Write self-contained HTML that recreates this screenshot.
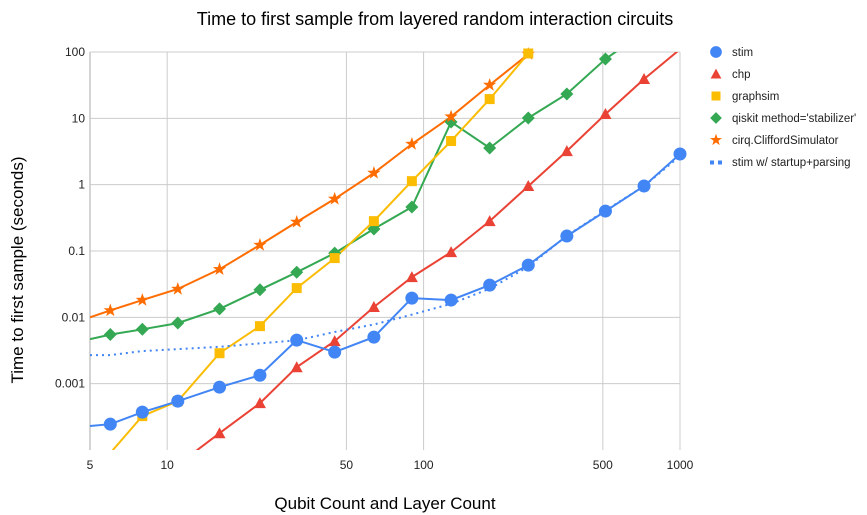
<!DOCTYPE html>
<html><head><meta charset="utf-8"><style>
body{margin:0;background:#fff;font-family:"Liberation Sans",Arial,sans-serif}
svg{display:block}
</style></head><body>
<svg id="c" width="867" height="515" xmlns="http://www.w3.org/2000/svg">
<defs><clipPath id="clip"><rect x="90" y="52" width="590" height="398"/></clipPath></defs>
<text x="435" y="25" text-anchor="middle" font-size="18" fill="#000">Time to first sample from layered random interaction circuits</text>
<text x="385" y="509" text-anchor="middle" font-size="17" fill="#000">Qubit Count and Layer Count</text>
<text transform="translate(23,270) rotate(-90)" text-anchor="middle" font-size="17" fill="#000">Time to first sample (seconds)</text>
<g id="grid"></g><g id="series" clip-path="url(#clip)"></g><g id="marks"></g><g id="legend"></g>
</svg>
<script>
const xTicks=[5,10,50,100,500,1000];
const xTickLabels=["5","10","50","100","500","1000"];
const yTicks=[0.001,0.01,0.1,1,10,100];
const yTickLabels=["0.001","0.01","0.1","1","10","100"];
const seriesNames=["stim","chp","graphsim","qiskit method='stabilizer'","cirq.CliffordSimulator","stim w/ startup+parsing"];
const stimX=[5,6,8,11,16,23,32,45,64,90,128,181,256,362,512,724,1000];
const stimY=[0.00023,0.000245,0.000372,0.000545,0.000885,0.00134,0.00453,0.00299,0.00503,0.0195,0.0182,0.0306,0.0613,0.168,0.4,0.953,2.9];
const chpX=[11,16,23,32,45,64,90,128,181,256,362,512,724,1000];
const chpY=[0.00006,0.000179,0.000508,0.00177,0.00438,0.0143,0.0404,0.0962,0.282,0.953,3.21,11.6,39.1,110];
const graphsimX=[6,8,11,16,23,32,45,64,90,128,181,256];
const graphsimY=[0.00009,0.000324,0.000545,0.00288,0.00736,0.0276,0.0782,0.282,1.13,4.55,19.5,95];
const qiskitX=[5,6,8,11,16,23,32,45,64,90,128,181,256,362,512,724];
const qiskitY=[0.0047,0.0055,0.0066,0.0082,0.0134,0.026,0.0478,0.0929,0.215,0.46,8.8,3.57,10.1,23.3,78.4,200];
const cirqX=[5,6,8,11,16,23,32,45,64,90,128,181,256];
const cirqY=[0.01,0.0127,0.0182,0.0267,0.053,0.123,0.274,0.61,1.5,4.1,10.6,31.8,93];
const parseX=[5,6,8,16,32,45,64,90,128,181,256,362,512,724,1000];
const parseY=[0.0027,0.0027,0.0031,0.0036,0.0045,0.006,0.0078,0.011,0.016,0.027,0.058,0.17,0.41,0.95,2.7];

const NS="http://www.w3.org/2000/svg";
const X0=90,X1=680,Y0=450,Y1=52;
const sx=v=>X0+(Math.log10(v)-Math.log10(5))/(Math.log10(1000)-Math.log10(5))*(X1-X0);
const sy=v=>Y0-(Math.log10(v)+4)/6*(Y0-Y1);
function mk(tag,attrs,parent){const e=document.createElementNS(NS,tag);for(const k in attrs)e.setAttribute(k,attrs[k]);parent.appendChild(e);return e;}
const grid=document.getElementById('grid'),ser=document.getElementById('series'),marks=document.getElementById('marks'),leg=document.getElementById('legend');
xTicks.forEach((t,i)=>{
  const l=mk('line',{x1:sx(t),x2:sx(t),y1:Y1,y2:Y0,stroke:i==0?'#aaa':'#ccc','stroke-width':1},grid);
  
  
  const tx=mk('text',{x:sx(t),y:469,'text-anchor':'middle','font-size':12,fill:'#222'},grid);tx.textContent=xTickLabels[i];
  
  
});
yTicks.forEach((t,i)=>{
  const l=mk('line',{x1:X0,x2:X1,y1:sy(t),y2:sy(t),stroke:'#ccc','stroke-width':1},grid);
  
  
  const tx=mk('text',{x:85,y:sy(t)+4,'text-anchor':'end','font-size':12,fill:'#222'},grid);tx.textContent=yTickLabels[i];
  
  
});
const colors=['#4285F4','#EA4335','#FBBC04','#34A853','#FF6D01','#4285F4'];
const shapes=['circle','tri','square','diamond','star',null];
const xs=[stimX,chpX,graphsimX,qiskitX,cirqX,parseX],ys=[stimY,chpY,graphsimY,qiskitY,cirqY,parseY];
const skipFirst=[true,true,false,true,true,false];
function shape(s,x,y,c,p,sz){
  if(s=='circle')return mk('circle',{cx:x,cy:y,r:6.5*sz,fill:c},p);
  if(s=='square')return mk('rect',{x:x-5*sz,y:y-5*sz,width:10*sz,height:10*sz,fill:c},p);
  if(s=='tri')return mk('polygon',{points:`${x},${y-6*sz} ${x+6*sz},${y+5*sz} ${x-6*sz},${y+5*sz}`,fill:c},p);
  if(s=='diamond')return mk('polygon',{points:`${x},${y-6.5*sz} ${x+6.5*sz},${y} ${x},${y+6.5*sz} ${x-6.5*sz},${y}`,fill:c},p);
  if(s=='star'){let pts=[];for(let k=0;k<10;k++){const r=(k%2?2.8:7)*sz,a=-Math.PI/2+k*Math.PI/5;pts.push((x+r*Math.cos(a)).toFixed(1)+','+(y+r*Math.sin(a)).toFixed(1));}return mk('polygon',{points:pts.join(' '),fill:c},p);}
}
[3,4,2,1,5,0].forEach(i=>{
  const d=xs[i].map((x,j)=>(j?'L':'M')+sx(x).toFixed(1)+','+sy(ys[i][j]).toFixed(1)).join('');
  const p=mk('path',{d:d,fill:'none',stroke:colors[i],'stroke-width':2,'stroke-dasharray':i==5?'2 4':'none'},ser);
  
  
  if(shapes[i]){
    xs[i].forEach((x,j)=>{
      if(j==0&&skipFirst[i])return;
      const px=sx(x),py=sy(ys[i][j]);
      if(px<X0-1||px>X1+1||py<Y1-1||py>Y0+1)return;
      const m=shape(shapes[i],px,py,colors[i],marks,1);
      
      
    });
  }
});
seriesNames.forEach((n,i)=>{
  const y=52+i*22;
  if(shapes[i]){const m=shape(shapes[i],716,y,colors[i],leg,0.9);}
  else{mk('rect',{x:710,y:y-1.5,width:4,height:4,fill:colors[i]},leg);mk('rect',{x:718,y:y-1.5,width:4,height:4,fill:colors[i]},leg);}
  const t=mk('text',{x:732,y:y+4,'font-size':11.5,fill:'#222'},leg);t.textContent=n;
  
  
});
</script>
</body></html>
